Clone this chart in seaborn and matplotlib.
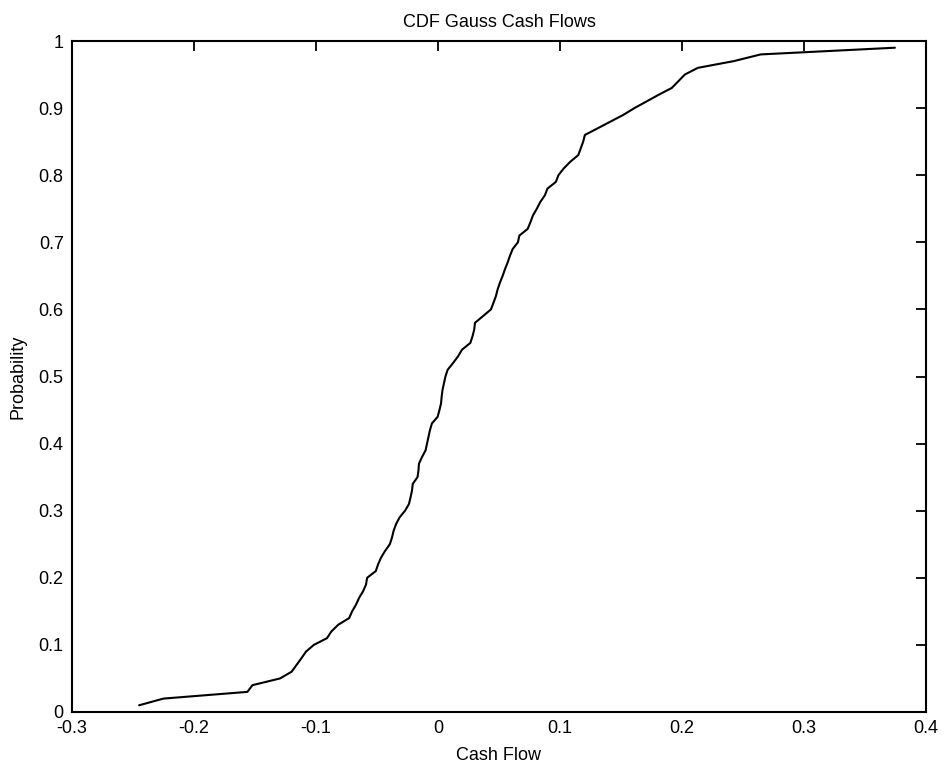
import numpy as np
import pandas as pd
import matplotlib
matplotlib.use("Agg")
import matplotlib.pyplot as plt
import seaborn as sns

# Sorted simulated cash flows and their empirical cumulative probabilities
cash_flow = [
    -0.2450, -0.2250, -0.1562, -0.1521, -0.1295, -0.1200, -0.1160, -0.1120, -0.1082, -0.1018,
    -0.0910, -0.0874, -0.0818, -0.0728, -0.0704, -0.0672, -0.0647, -0.0614, -0.0590, -0.0581,
    -0.0510, -0.0491, -0.0467, -0.0434, -0.0395, -0.0377, -0.0364, -0.0344, -0.0315, -0.0270,
    -0.0238, -0.0225, -0.0213, -0.0207, -0.0168, -0.0160, -0.0156, -0.0131, -0.0102, -0.0090,
    -0.0078, -0.0066, -0.0050, -0.0003, 0.0012, 0.0025, 0.0030, 0.0037, 0.0049, 0.0061,
    0.0079, 0.0123, 0.0164, 0.0197, 0.0265, 0.0283, 0.0297, 0.0303, 0.0369, 0.0434,
    0.0455, 0.0475, 0.0489, 0.0508, 0.0530, 0.0549, 0.0571, 0.0590, 0.0612, 0.0655,
    0.0667, 0.0735, 0.0758, 0.0778, 0.0810, 0.0838, 0.0876, 0.0897, 0.0966, 0.0987,
    0.1030, 0.1084, 0.1150, 0.1170, 0.1190, 0.1204, 0.1310, 0.1415, 0.1520, 0.1610,
    0.1710, 0.1810, 0.1916, 0.1970, 0.2023, 0.2130, 0.2424, 0.2645, 0.3745,
]
probability = [round(0.01 * k, 2) for k in range(1, 100)]

x_ticks = [-0.3, -0.2, -0.1, 0.0, 0.1, 0.2, 0.3, 0.4]
x_tick_labels = ["-0.3", "-0.2", "-0.1", "0", "0.1", "0.2", "0.3", "0.4"]
y_ticks = [0.0, 0.1, 0.2, 0.3, 0.4, 0.5, 0.6, 0.7, 0.8, 0.9, 1.0]
y_tick_labels = ["0", "0.1", "0.2", "0.3", "0.4", "0.5", "0.6", "0.7", "0.8", "0.9", "1"]

df = pd.DataFrame({"Cash Flow": cash_flow, "Probability": probability})

sns.set_style("white")
plt.rcParams["font.family"] = ["Liberation Sans", "DejaVu Sans"]
plt.rcParams["axes.unicode_minus"] = False
plt.rcParams["text.color"] = "black"
plt.rcParams["axes.labelcolor"] = "black"

fig = plt.figure(figsize=(9.45, 7.68), dpi=100)
ax = fig.add_axes([72 / 945, 1 - 712 / 768, (926 - 72) / 945, (712 - 41) / 768])

sns.lineplot(data=df, x="Cash Flow", y="Probability", ax=ax,
             color="black", linewidth=1.5, sort=False, estimator=None)

ax.set_xlim(-0.3, 0.4)
ax.set_ylim(0, 1)
ax.set_xticks(x_ticks)
ax.set_xticklabels(x_tick_labels)
ax.set_yticks(y_ticks)
ax.set_yticklabels(y_tick_labels)

fs = 13
ax.tick_params(direction="in", length=7, width=1.3, top=True, right=True,
               labelsize=fs, colors="black", pad=6)
for spine in ax.spines.values():
    spine.set_visible(True)
    spine.set_color("black")
    spine.set_linewidth(1.5)

ax.set_title("CDF Gauss Cash Flows", fontsize=fs, pad=10, color="black")
ax.set_xlabel("Cash Flow", fontsize=fs, labelpad=7, color="black")
ax.set_ylabel("Probability", fontsize=fs, labelpad=9, color="black")

fig.savefig("out.png", dpi=100, facecolor="white")
